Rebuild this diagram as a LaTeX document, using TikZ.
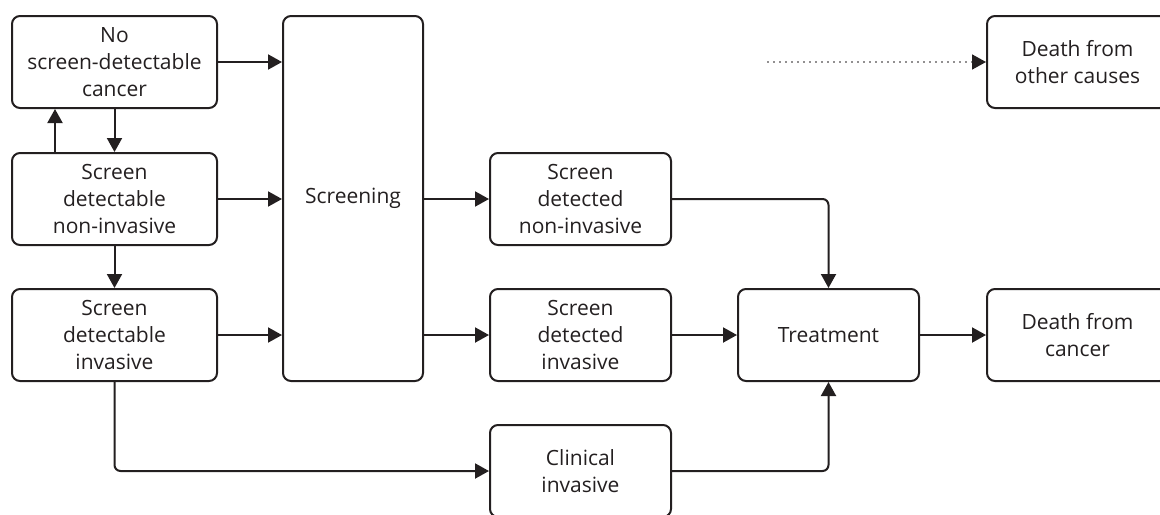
\documentclass[tikz,border=0pt]{standalone}
\usepackage{fontspec}
\setmainfont{Open Sans}
\usetikzlibrary{arrows.meta}
\definecolor{ink}{HTML}{231F20}

\begin{document}
\begin{tikzpicture}[x=0.5pt,y=-0.5pt,
  box/.style={draw=ink,line width=1pt,rounded corners=4pt,inner sep=0pt,
    align=center,text=ink,font=\fontsize{10.5}{13.5}\selectfont,
    minimum width=90.5pt,minimum height=46pt},
  widebox/.style={box,minimum width=102.5pt},
  arr/.style={draw=ink,line width=1pt,-{Triangle[length=7pt,width=7.5pt]}},
  elbow/.style={arr,rounded corners=3pt}]
 \useasboundingbox (0,0) rectangle (1160,514);

 % states before screening
 \node[widebox] (nosc) at (114.5,62) {No\\screen-detectable\\cancer};
 \node[widebox] (sdni) at (114.5,199) {Screen\\detectable\\non-invasive};
 \node[widebox] (sdi) at (114.5,335) {Screen\\detectable\\invasive};

 \node[box,minimum width=70pt,minimum height=182.5pt] (scr) at (353,198.5) {Screening};

 % outcomes
 \node[box] (dni) at (580.5,199) {Screen\\detected\\non-invasive};
 \node[box] (di) at (580.5,335) {Screen\\detected\\invasive};
 \node[box] (clin) at (580.5,471) {Clinical\\invasive};
 \node[box] (treat) at (828.5,335) {Treatment};
 \node[box] (dcan) at (1077.5,335) {Death from\\cancer};
 \node[box] (doth) at (1077.5,62) {Death from\\other causes};
 \coordinate (oth) at (768,62);

 % progression
 \draw[arr] (nosc.south) -- (sdni.north);
 \draw[arr] ([xshift=22pt]sdni.north west) -- ([xshift=22pt]nosc.south west);
 \draw[arr] (sdni.south) -- (sdi.north);

 % into screening
 \draw[arr] (nosc.east) -- (nosc.east -| scr.west);
 \draw[arr] (sdni.east) -- (sdni.east -| scr.west);
 \draw[arr] (sdi.east) -- (sdi.east -| scr.west);

 % out of screening
 \draw[arr] (dni.west -| scr.east) -- (dni.west);
 \draw[arr] (di.west -| scr.east) -- (di.west);

 \draw[elbow] (dni.east) -| (treat.north);
 \draw[arr] (di.east) -- (treat.west);
 \draw[elbow] (sdi.south) |- (clin.west);
 \draw[elbow] (clin.east) -| (treat.south);
 \draw[arr] (treat.east) -- (dcan.west);

 \draw[arr,line width=0.8pt,line cap=round,dash pattern=on 0pt off 3pt] (oth) -- (doth.west);
\end{tikzpicture}
\end{document}
